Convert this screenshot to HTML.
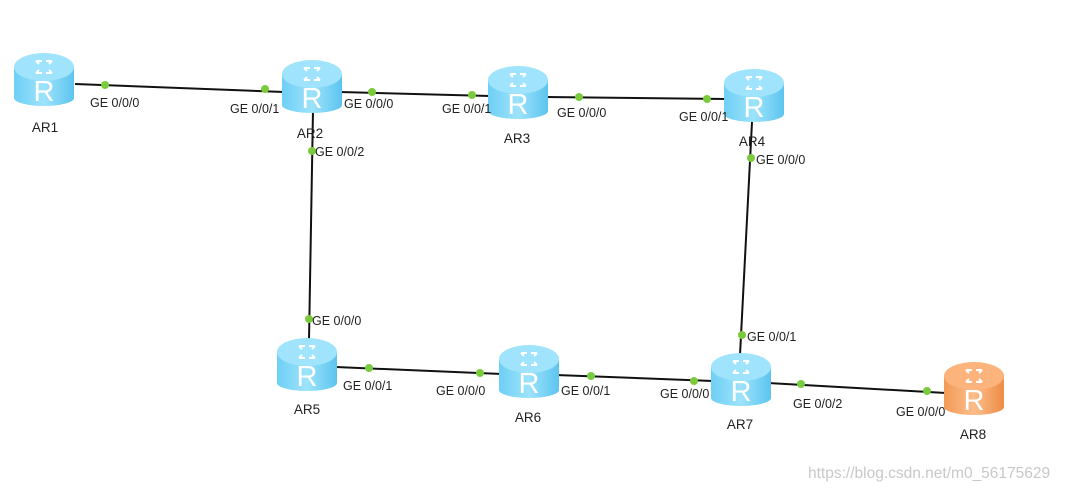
<!DOCTYPE html>
<html><head><meta charset="utf-8"><style>
html,body{margin:0;padding:0;background:#fff;width:1065px;height:493px;overflow:hidden}
text{font-family:"Liberation Sans",Arial,sans-serif}
</style></head><body>
<svg width="1065" height="493" xmlns="http://www.w3.org/2000/svg">
<defs>
<linearGradient id="bb" x1="0" x2="1"><stop offset="0" stop-color="#6ecff5"/><stop offset="0.5" stop-color="#9de3fb"/><stop offset="1" stop-color="#5cc4ef"/></linearGradient>
<linearGradient id="ob" x1="0" x2="1"><stop offset="0" stop-color="#f39a56"/><stop offset="0.5" stop-color="#fbbd8a"/><stop offset="1" stop-color="#ee8c45"/></linearGradient>
<g id="rb">
<path d="M0 14 V45 A30 8 0 0 0 60 45 V14 Z" fill="url(#bb)"/>
<ellipse cx="30" cy="14" rx="30" ry="14" fill="#9fe4fc"/>
<path d="M22 8 l6 0 M22 8 l3 3 M38 8 l-6 0 M38 20 l-6 0 M22 20 l6 0 M38 8 l-3 3 M22 20 l3 -3 M38 20 l-3 -3" stroke="#fff" stroke-width="2" fill="none"/>
<text x="30" y="48" font-size="29" fill="#fff" text-anchor="middle">R</text>
</g>
<g id="ro">
<path d="M0 14 V45 A30 8 0 0 0 60 45 V14 Z" fill="url(#ob)"/>
<ellipse cx="30" cy="14" rx="30" ry="14" fill="#fcb47c"/>
<path d="M22 8 l6 0 M22 8 l3 3 M38 8 l-6 0 M38 20 l-6 0 M22 20 l6 0 M38 8 l-3 3 M22 20 l3 -3 M38 20 l-3 -3" stroke="#fff" stroke-width="2" fill="none"/>
<text x="30" y="48" font-size="29" fill="#fff" text-anchor="middle">R</text>
</g>
</defs>
<g stroke="#111" stroke-width="2">
<line x1="75" y1="84" x2="284" y2="92"/>
<line x1="340" y1="92" x2="490" y2="96"/>
<line x1="546" y1="97" x2="726" y2="99"/>
<line x1="752" y1="122" x2="740" y2="355"/>
<line x1="313" y1="110" x2="309" y2="340"/>
<line x1="336" y1="367" x2="502" y2="374"/>
<line x1="556" y1="375" x2="713" y2="381"/>
<line x1="768" y1="383" x2="946" y2="393"/>
</g>
<g fill="#7acb3c">
<circle cx="105" cy="85" r="4"/><circle cx="265" cy="89" r="4"/>
<circle cx="372" cy="92" r="4"/><circle cx="472" cy="95" r="4"/>
<circle cx="579" cy="97" r="4"/><circle cx="707" cy="99" r="4"/>
<circle cx="751" cy="158" r="4"/><circle cx="742" cy="335" r="4"/>
<circle cx="312" cy="151" r="4"/><circle cx="309" cy="319" r="4"/>
<circle cx="369" cy="368" r="4"/><circle cx="480" cy="373" r="4"/>
<circle cx="591" cy="376" r="4"/><circle cx="694" cy="381" r="4"/>
<circle cx="801" cy="384" r="4"/><circle cx="927" cy="391" r="4"/>
</g>
<use href="#rb" x="14" y="53"/>
<use href="#rb" x="282" y="60"/>
<use href="#rb" x="488" y="66"/>
<use href="#rb" x="724" y="69"/>
<use href="#rb" x="277" y="338"/>
<use href="#rb" x="499" y="345"/>
<use href="#rb" x="711" y="353"/>
<use href="#ro" x="944" y="362"/>
<g font-size="12.5" fill="#222">
<text x="90" y="107">GE 0/0/0</text>
<text x="230" y="113">GE 0/0/1</text>
<text x="344" y="108">GE 0/0/0</text>
<text x="442" y="113">GE 0/0/1</text>
<text x="557" y="117">GE 0/0/0</text>
<text x="679" y="121">GE 0/0/1</text>
<text x="756" y="164">GE 0/0/0</text>
<text x="747" y="341">GE 0/0/1</text>
<text x="315" y="156">GE 0/0/2</text>
<text x="312" y="325">GE 0/0/0</text>
<text x="343" y="390">GE 0/0/1</text>
<text x="436" y="395">GE 0/0/0</text>
<text x="561" y="395">GE 0/0/1</text>
<text x="660" y="398">GE 0/0/0</text>
<text x="793" y="408">GE 0/0/2</text>
<text x="896" y="416">GE 0/0/0</text>
</g>
<g font-size="13.5" fill="#222" text-anchor="middle">
<text x="45" y="132">AR1</text>
<text x="310" y="138">AR2</text>
<text x="517" y="143">AR3</text>
<text x="752" y="146">AR4</text>
<text x="307" y="414">AR5</text>
<text x="528" y="422">AR6</text>
<text x="740" y="429">AR7</text>
<text x="973" y="439">AR8</text>
</g>
<text x="808" y="478" font-size="15.5" fill="#c8c8c8">https://blog.csdn.net/m0_56175629</text>
</svg>
</body></html>
